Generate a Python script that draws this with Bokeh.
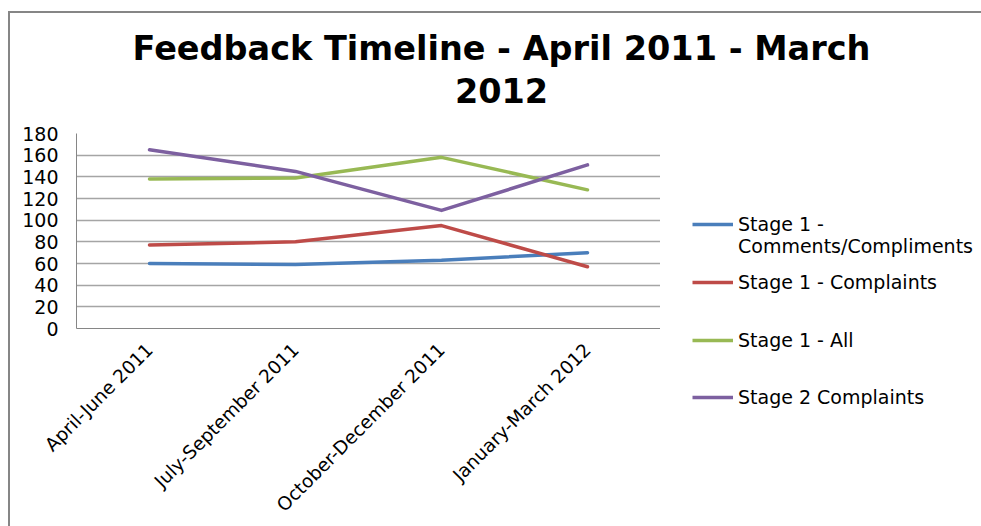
import math
from bokeh.plotting import figure
from bokeh.layouts import column, row
from bokeh.models import (FactorRange, Range1d, FixedTicker, Legend, LegendItem,
                          Label, ColumnDataSource)
from bokeh.embed import file_html
from bokeh.resources import INLINE

# ---- data ----
quarters = ["April-June 2011", "July-September 2011",
            "October-December 2011", "January-March 2012"]
stage1_comments = [60, 59, 63, 70]
stage1_complaints = [77, 80, 95, 57]
stage1_all = [138, 139, 158, 128]
stage2_complaints = [165, 145, 109, 151]
y_ticks = [0, 20, 40, 60, 80, 100, 120, 140, 160, 180]
series_names = ["Stage 1 -", "Stage 1 - Complaints", "Stage 1 - All", "Stage 2 Complaints"]
series_name_cont = "Comments/Compliments"
title_line1 = "Feedback Timeline - April 2011 - March"
title_line2 = "2012"

colors = ["#4A7EBB", "#BE4B48", "#98B954", "#7D60A0"]
FONT = "DejaVu Sans"
LW = 3.5


def bare(fig):
    fig.outline_line_color = None
    fig.background_fill_color = "white"
    fig.border_fill_color = "white"
    fig.axis.visible = False
    fig.grid.visible = False
    fig.frame_align = False


# ---- title strip ----
tfig = figure(width=971, height=108, x_range=Range1d(0, 971), y_range=Range1d(0, 108),
              output_backend="svg", toolbar_location=None, min_border=0, title=None)
bare(tfig)
for txt, yy in ((title_line1, 73), (title_line2, 31)):
    tfig.add_layout(Label(x=491, y=yy, text=txt, text_align="center", text_baseline="middle",
                          text_font=FONT, text_font_style="bold", text_font_size="33.5px",
                          text_color="black"))

# ---- main plot ----
source = ColumnDataSource(dict(q=quarters, s1c=stage1_comments, s1p=stage1_complaints,
                               s1a=stage1_all, s2p=stage2_complaints))

p = figure(width=650, height=405,
           x_range=FactorRange(*quarters, range_padding=0),
           y_range=Range1d(0, 180),
           output_backend="svg", toolbar_location=None,
           min_border_left=66, min_border_right=0,
           min_border_top=12, min_border_bottom=198, title=None)
p.frame_align = False
p.outline_line_color = None
p.background_fill_color = "white"
p.border_fill_color = "white"

p.yaxis.ticker = FixedTicker(ticks=y_ticks)
p.yaxis.major_tick_line_color = None
p.yaxis.minor_tick_line_color = None
p.yaxis.major_tick_out = 0
p.yaxis.major_tick_in = 0
p.yaxis.axis_line_color = "#868686"
p.yaxis.major_label_text_font = FONT
p.yaxis.major_label_text_font_size = "19px"
p.yaxis.major_label_text_color = "black"
p.yaxis.major_label_standoff = 18

p.xaxis.major_tick_line_color = None
p.xaxis.minor_tick_line_color = None
p.xaxis.major_tick_out = 0
p.xaxis.major_tick_in = 0
p.xaxis.axis_line_color = "#868686"
p.xaxis.major_label_orientation = math.pi / 4
p.xaxis.major_label_text_font = FONT
p.xaxis.major_label_text_font_size = "18.5px"
p.xaxis.major_label_text_color = "black"
p.xaxis.major_label_standoff = 18

p.xgrid.visible = False
p.ygrid.ticker = FixedTicker(ticks=y_ticks)
p.ygrid.grid_line_color = "#a5a5a5"
p.ygrid.grid_line_width = 1.3

cols = ["s1c", "s1p", "s1a", "s2p"]
for c, col in zip(cols, colors):
    p.line(x="q", y=c, source=source, line_color=col, line_width=LW,
           line_join="round", line_cap="round")

# ---- legend panel ----
lfig = figure(width=321, height=405, x_range=Range1d(0, 1), y_range=Range1d(0, 1),
              output_backend="svg", toolbar_location=None, min_border=0, title=None)
bare(lfig)
# legend keys: off-screen line renderers that carry the series styles
keys = [lfig.line(x=[-2, -1], y=[-2, -1], line_color=col, line_width=LW) for col in colors]
dummy = lfig.line(x=[-2, -1], y=[-2, -1], line_alpha=0)

legend_specs = [
    (series_names[0], keys[0], 291),
    (series_name_cont, dummy, 269),
    (series_names[1], keys[1], 233),
    (series_names[2], keys[2], 175),
    (series_names[3], keys[3], 118),
]
for label, r, vy in legend_specs:
    leg = Legend(items=[LegendItem(label=label, renderers=[r])],
                 location=(32, vy), padding=0, margin=0,
                 border_line_alpha=0, background_fill_alpha=0,
                 glyph_width=41, glyph_height=22, label_height=22,
                 label_standoff=5, label_text_font=FONT,
                 label_text_font_size="19px", label_text_color="black")
    lfig.add_layout(leg, "center")

layout = column(tfig, row(p, lfig, spacing=0), spacing=0,
                margin=(11, 0, 0, 8),
                styles={"border-left": "2px solid #868686", "border-top": "2px solid #868686"})

open("out.html", "w").write(file_html(layout, INLINE))
